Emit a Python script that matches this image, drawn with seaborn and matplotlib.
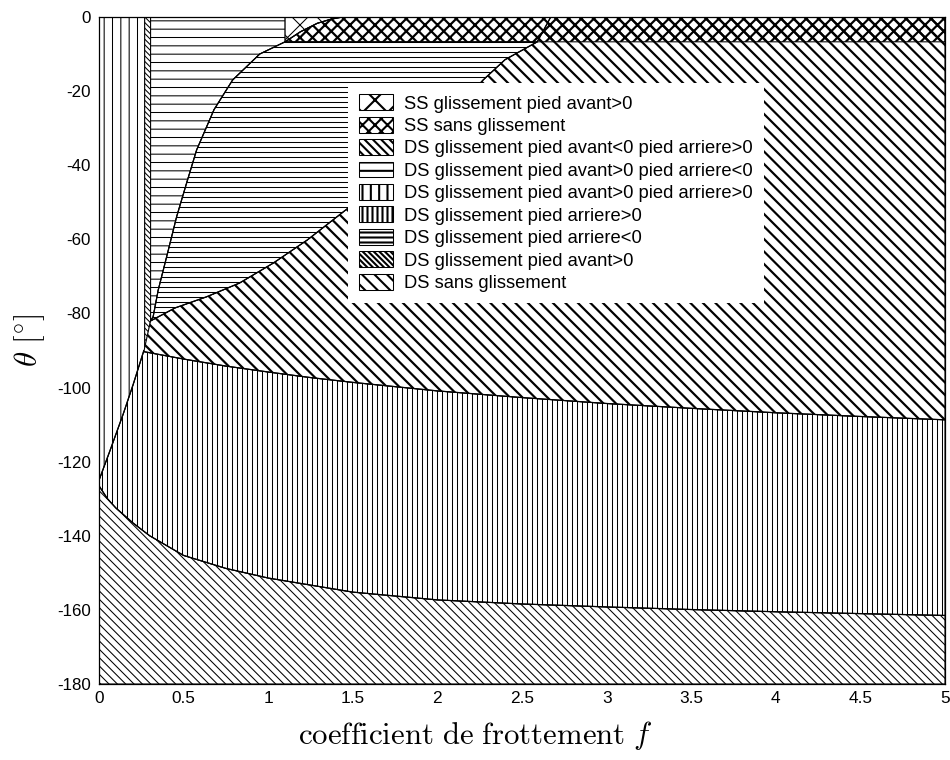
import matplotlib
matplotlib.use("Agg")
import matplotlib.pyplot as plt
from matplotlib import font_manager
import seaborn as sns
import pandas as pd

# ---------------- data ----------------
# left boundary of the "pied arriere>0" zone (from f=0 up to the corner)
f_left = [0.0, 0.065, 0.144, 0.203, 0.265]
th_left = [-125, -117, -107, -99, -90]

# lower boundary: DS avant<0 arriere>0 / DS arriere>0
f_low = [0, 0.05, 0.1, 0.2, 0.3, 0.5, 0.75, 1, 1.5, 2, 2.5, 3, 3.5, 4, 4.5, 5]
th_low = [-126.5, -130, -132.5, -136.5, -140, -145.3, -148.8, -151.4, -155.2,
          -157.3, -158.4, -159.2, -159.9, -160.5, -161.0, -161.5]

# middle boundary: DS arriere>0 / DS sans glissement
f_mid = [0.265, 0.5, 0.75, 1.0, 1.25, 1.5, 2, 2.5, 3, 3.5, 4, 4.5, 5]
th_mid = [-90.3, -92.3, -94.2, -95.8, -97.3, -98.6, -100.9, -102.7, -104.3,
          -105.6, -106.8, -107.8, -108.7]

# upper boundary: DS sans glissement / DS arriere<0
f_up = [0.305, 0.45, 0.636, 0.83, 1.03, 1.23, 1.46, 1.7, 1.95, 2.15, 2.27,
        2.4, 2.59, 2.67]
th_up = [-82, -78.5, -75.5, -71.8, -66.4, -60.2, -52, -43, -33, -23, -17,
         -11.5, -6.7, 0]

# steep boundary: DS avant>0 arriere<0 / DS arriere<0
f_steep = [0.305, 0.32, 0.35, 0.40, 0.459, 0.518, 0.577, 0.68, 0.79, 0.95, 1.1]
th_steep = [-82, -80.9, -73.7, -64.7, -53.9, -44.8, -35.9, -25, -17, -10, -6.7]

# SS boundary: SS glissement / SS sans glissement
f_ss = [1.1, 1.19, 1.29, 1.37, 1.44]
th_ss = [-6.7, -4.0, -1.7, -0.6, 0]

f_strip = [0.27, 0.305]          # thin "DS glissement pied avant>0" strip
th_ss_floor = -6.7               # lower limit of the single-support band
f_max, th_top, th_bot = 5, 0, -180

labels = ["SS glissement pied avant>0",
          "SS sans glissement",
          "DS glissement pied avant<0 pied arriere>0",
          "DS glissement pied avant>0 pied arriere<0",
          "DS glissement pied avant>0 pied arriere>0",
          "DS glissement pied arriere>0",
          "DS glissement pied arriere<0",
          "DS glissement pied avant>0",
          "DS sans glissement"]

x_ticks = [0, 0.5, 1, 1.5, 2, 2.5, 3, 3.5, 4, 4.5, 5]
x_ticklabels = ["0", "0.5", "1", "1.5", "2", "2.5", "3", "3.5", "4", "4.5", "5"]
y_ticks = list(range(-180, 1, 20))

# ---------------- style ----------------
sns.set_style("white")
plt.rcParams["font.family"] = ["Liberation Sans", "DejaVu Sans"]
plt.rcParams["mathtext.fontset"] = "cm"
plt.rcParams["axes.unicode_minus"] = False
for k in ["text.color", "axes.labelcolor", "xtick.color", "ytick.color"]:
    plt.rcParams[k] = "black"

DPI = 150
fig = plt.figure(figsize=(950 / DPI, 760 / DPI), dpi=DPI)
ax = fig.add_axes([99 / 950, 1 - 684 / 760, 846 / 950, 667 / 760])

THIN, BOLD = 0.5, 1.05


def region(xs, ys, hatch, hlw, face="white", z=1):
    with plt.rc_context({"hatch.linewidth": hlw}):
        poly = ax.fill(xs, ys, facecolor=face, edgecolor="black", hatch=hatch,
                       linewidth=0.5, zorder=z)[0]
    if hasattr(poly, "set_hatch_linewidth"):
        poly.set_hatch_linewidth(hlw)
    return poly


# polygons built from the boundary arrays
pA = region(f_low + [f_max, 0], th_low + [th_bot, th_bot], "\\" * 6, THIN)
pB = region(f_left + f_mid + [f_max] + f_low[::-1],
            th_left + th_mid + [th_low[-1]] + th_low[::-1], "|" * 5, THIN)
pL = region([0, f_strip[0], f_strip[0]] + f_left[::-1],
            [th_top, th_top, th_left[-1]] + th_left[::-1], "|" * 3, THIN)
pS = region([f_strip[0], f_strip[1], f_strip[1], f_strip[0]],
            [th_top, th_top, th_up[0], th_left[-1]], "\\" * 9, THIN)
pC = region(f_mid + [f_max] + f_up[::-1],
            th_mid + [th_top] + th_up[::-1], "\\" * 4, BOLD)
pD = region([f_strip[1], f_ss[0]] + f_steep[::-1],
            [th_top, th_top] + th_steep[::-1], "-" * 3, THIN)
pE = region(f_steep + f_up[:-1][::-1], th_steep + th_up[:-1][::-1], "-" * 5, THIN)
pSSg = region([f_ss[0]] + f_ss[::-1], [th_top] + th_ss[::-1], "xx", THIN, z=2)
pSSs = region(f_ss + [f_max, f_max], th_ss + [th_top, th_ss_floor], "xxxx", BOLD,
              face="none", z=2)

# boundary curves drawn through seaborn
for fx, th in [(f_left, th_left), (f_low, th_low), (f_mid, th_mid),
               (f_up, th_up), (f_steep, th_steep), (f_ss, th_ss)]:
    sns.lineplot(data=pd.DataFrame({"f": fx, "t": th}), x="f", y="t", sort=False,
                 color="black", linewidth=0.6, ax=ax, zorder=3)

ax.set_xlim(0, f_max)
ax.set_ylim(th_bot, th_top)
ax.set_xticks(x_ticks)
names = {f.name for f in font_manager.fontManager.ttflist}
if "Liberation Sans Narrow" in names:
    ax.set_xticklabels(x_ticklabels, family="Liberation Sans Narrow", fontsize=9.2)
else:
    ax.set_xticklabels(x_ticklabels, fontsize=8.3)
ax.set_yticks(y_ticks)
ax.tick_params(axis="y", length=0, labelsize=8.1, pad=4)
ax.tick_params(axis="x", length=0, pad=3.5)
for sp in ax.spines.values():
    sp.set_color("black")
    sp.set_linewidth(0.6)
    sp.set_zorder(4)

ax.set_xlabel(r"$\mathrm{coefficient\ de\ frottement}\ f$", fontsize=14.8)
ax.xaxis.set_label_coords((475 - 99) / 846, -0.052)
ax.set_ylabel(r"$\theta\ [^{\circ}]$", fontsize=14.8)
ax.yaxis.set_label_coords(-(99 - 47) / 846, (684 - 340) / 667)

handles = [pSSg, pSSs, pA, pD, pL, pB, pE, pS, pC]
leg = ax.legend(handles, labels, loc="upper left",
                bbox_to_anchor=((348 - 99) / 846, (684 - 83) / 667),
                borderaxespad=0, frameon=True, fancybox=False, framealpha=1,
                facecolor="white", edgecolor="none", fontsize=8.8,
                handlelength=1.85, handleheight=0.95, handletextpad=0.6,
                labelspacing=0.23, borderpad=0.62)
leg.set_zorder(5)

fig.savefig("out.png", dpi=DPI)
